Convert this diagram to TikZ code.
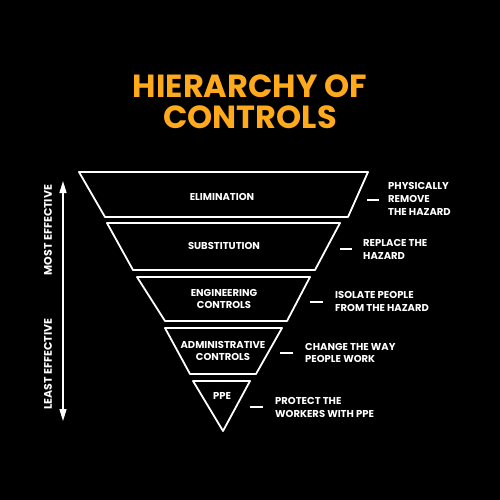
\documentclass[tikz,border=0pt]{standalone}
\usepackage{fontspec}
\setmainfont{Poppins}
\usetikzlibrary{arrows.meta}
\definecolor{titleor}{HTML}{FFA91C}
\begin{document}
\begin{tikzpicture}[x=1pt,y=-1pt,
  seg/.style={draw=white,line width=1.8pt,line join=round},
  lab/.style={text=white,font=\fontsize{10}{11.5}\selectfont\bfseries,align=center,inner sep=0},
  desc/.style={text=white,font=\fontsize{10}{12.8}\selectfont\bfseries,align=left,anchor=west,inner sep=0},
  side/.style={text=white,font=\fontsize{11}{12}\selectfont\bfseries,inner sep=0,rotate=90},
  dashmark/.style={draw=white,line width=2pt},
  ttl/.style={text=titleor,font=\fontsize{32}{34}\selectfont\bfseries,inner sep=0}
]
\fill[black] (0,0) rectangle (500,500);
\useasboundingbox (0,0) rectangle (500,500);

% title
\node[ttl] (t1) at (250,86) {HIERARCHY OF};
\node[ttl] (t2) at (250,117) {CONTROLS};

% pyramid segments
\draw[seg] (79,172) -- (368,172) -- (348,217) -- (105,217) -- cycle;
\draw[seg] (107,223) -- (340,223) -- (315,270) -- (133,270) -- cycle;
\draw[seg] (137,277) -- (310,277) -- (287,321) -- (165,321) -- cycle;
\draw[seg] (165,328) -- (282,328) -- (256,374) -- (190,374) -- cycle;
\draw[seg] (193,381) -- (250,381) -- (223,431) -- cycle;

% segment labels
\node[lab] (l1) at (222,197) {ELIMINATION};
\node[lab] (l2) at (224,246) {SUBSTITUTION};
\node[lab] (l3) at (224,299) {ENGINEERING\\CONTROLS};
\node[lab] (l4) at (223,351) {ADMINISTRATIVE\\CONTROLS};
\node[lab] (l5) at (222,396) {PPE};

% descriptions with dashes
\coordinate (d1a) at (367,200); \coordinate (d1b) at (379,200);
\draw[dashmark] (d1a) -- (d1b);
\node[desc] (r1) at (388,199) {PHYSICALLY\\REMOVE\\THE HAZARD};

\coordinate (d2a) at (340,249); \coordinate (d2b) at (352,249);
\draw[dashmark] (d2a) -- (d2b);
\node[desc] (r2) at (363,249.5) {REPLACE THE\\HAZARD};

\coordinate (d3a) at (310,302); \coordinate (d3b) at (323,302);
\draw[dashmark] (d3a) -- (d3b);
\node[desc] (r3) at (335,301.5) {ISOLATE PEOPLE\\FROM THE HAZARD};

\coordinate (d4a) at (280,353); \coordinate (d4b) at (293,353);
\draw[dashmark] (d4a) -- (d4b);
\node[desc] (r4) at (305,353) {CHANGE THE WAY\\PEOPLE WORK};

\coordinate (d5a) at (250,407); \coordinate (d5b) at (263,407);
\draw[dashmark] (d5a) -- (d5b);
\node[desc] (r5) at (275,407.5) {PROTECT THE\\WORKERS WITH PPE};

% effectiveness arrow
\coordinate (atop) at (63,181);
\coordinate (abot) at (63,421);
\draw[white,line width=1.4pt,{Triangle[length=12pt,width=7pt]}-{Triangle[length=12pt,width=7pt]}] (atop) -- (abot);
\node[side] (most) at (48,230) {MOST EFFECTIVE};
\node[side] (least) at (48,364) {LEAST EFFECTIVE};
\end{tikzpicture}
\end{document}
